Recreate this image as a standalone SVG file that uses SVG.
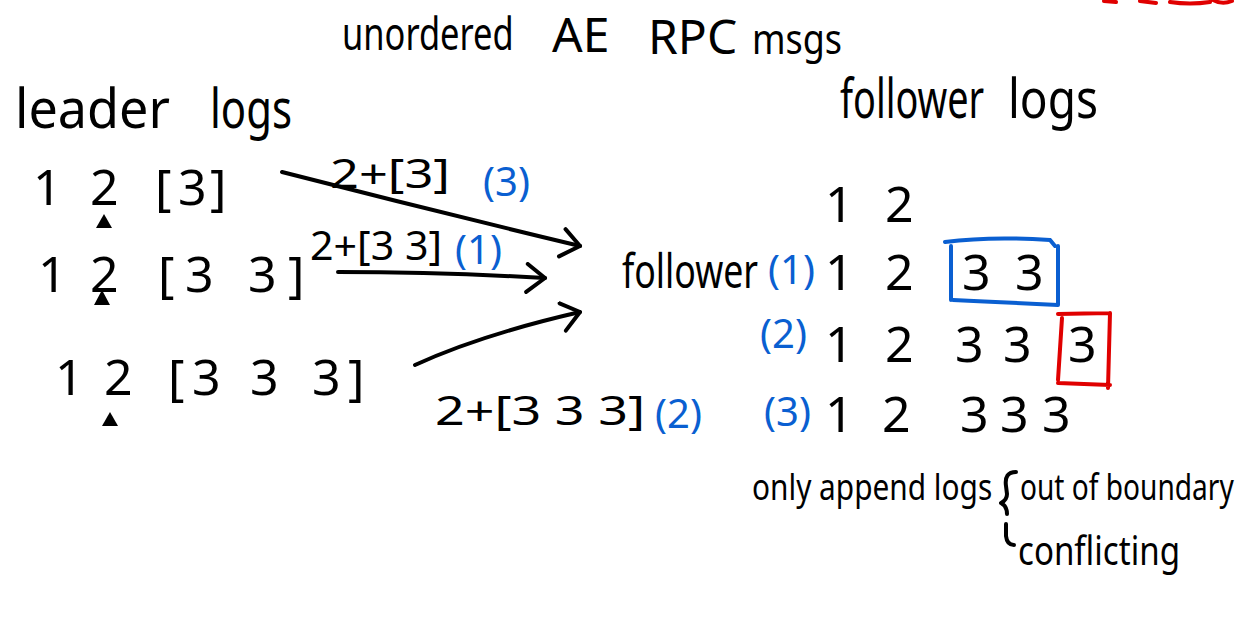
<svg xmlns="http://www.w3.org/2000/svg" width="1250" height="641" viewBox="0 0 1250 641">
<style>
  text { font-family: "Noto Sans", "Liberation Sans", sans-serif; fill: #000; }
  .hw { font-size: 50px; }
  .lbl { font-size: 40px; }
  .blue { fill: #0a5fd1; }
  .line { fill: none; stroke: #000; stroke-width: 4; stroke-linecap: round; stroke-linejoin: round; }
  .bbox { fill: none; stroke: #0a5fd1; stroke-width: 4; stroke-linecap: round; }
  .rbox { fill: none; stroke: #e00000; stroke-width: 4; stroke-linecap: round; }
  .tri { fill: #000; }
</style>
<defs>
  <marker id="chev" markerUnits="userSpaceOnUse" markerWidth="30" markerHeight="34" refX="22" refY="15" orient="auto">
    <path d="M4,2 L22,15 L4,30" fill="none" stroke="#000" stroke-width="4" stroke-linecap="round" stroke-linejoin="round"/>
  </marker>
</defs>
<rect width="1250" height="641" fill="#fff"/>

<g id="red-scribble">
  <path class="rbox" d="M1104,1 L1116,2 M1140,1 L1156,3 M1170,2 Q1190,5 1210,2 M1213,0 Q1222,5 1232,1" stroke-width="4"/>
</g>

<g id="title">
  <text transform="translate(342,50) scale(0.74,1)" font-size="46" textLength="232" lengthAdjust="spacingAndGlyphs">unordered</text>
  <text x="552" y="52" font-size="48">AE</text>
  <text x="648" y="54" font-size="48">RPC</text>
  <text x="752" y="54" textLength="90" lengthAdjust="spacingAndGlyphs" font-size="42">msgs</text>
</g>

<g id="leader-title">
  <text x="15" y="128" font-size="54" textLength="155" lengthAdjust="spacingAndGlyphs">leader</text>
  <text x="210" y="128" font-size="54" textLength="82" lengthAdjust="spacingAndGlyphs">logs</text>
</g>

<g id="follower-title">
  <text transform="translate(840,118) scale(0.7,1)" font-size="54" textLength="206" lengthAdjust="spacingAndGlyphs">follower</text>
  <text x="1008" y="118" font-size="54" textLength="90" lengthAdjust="spacingAndGlyphs">logs</text>
</g>

<g id="leader-row1">
  <text class="hw" x="33 90 155 178 210" y="205">12[3]</text>
  <polygon class="tri" points="104,214 96,228 112,228"/>
</g>
<g id="leader-row2">
  <text class="hw" x="38 90 158 185 248 288" y="292">12[33]</text>
  <polygon class="tri" points="102,290 94,305 110,305"/>
</g>
<g id="leader-row3">
  <text class="hw" x="55 104 168 192 250 312 348" y="395">12[333]</text>
  <polygon class="tri" points="110,412 102,426 118,426"/>
</g>

<g id="msg1">
  <text class="lbl" x="330" y="188" textLength="120" lengthAdjust="spacingAndGlyphs">2+[3]</text>
  <text class="lbl blue" x="483" y="196">(3)</text>
</g>
<g id="msg2">
  <text class="lbl" x="310" y="260" font-size="36" textLength="132" lengthAdjust="spacingAndGlyphs">2+[3 3]</text>
  <text class="lbl blue" x="455" y="264">(1)</text>
</g>
<g id="msg3">
  <text class="lbl" x="435" y="425" textLength="210" lengthAdjust="spacingAndGlyphs">2+[3 3 3]</text>
  <text class="lbl blue" x="655" y="428">(2)</text>
</g>

<g id="connectors">
  <path class="line" d="M282,172 Q430,210 580,246" marker-end="url(#chev)"/>
  <path class="line" d="M338,272 Q440,272 545,278" marker-end="url(#chev)"/>
  <path class="line" d="M415,365 Q480,335 580,312" marker-end="url(#chev)"/>
</g>

<g id="follower-label">
  <text transform="translate(622,288) scale(0.72,1)" font-size="48" textLength="189" lengthAdjust="spacingAndGlyphs">follower</text>
  <text class="blue" x="768" y="284" font-size="40">(1)</text>
</g>

<g id="follower-row0">
  <text class="hw" x="825 885" y="222">12</text>
</g>
<g id="follower-row1">
  <text class="hw" x="825 885 962 1015" y="290">1233</text>
  <path class="bbox" d="M945,242 Q990,236 1050,240 L1055,246 M951,246 L951,300 M953,300 Q1000,302 1058,305 M1058,246 L1058,305"/>
</g>
<g id="follower-row2">
  <text class="blue" x="760" y="348" font-size="40">(2)</text>
  <text class="hw" x="825 885 955 1003 1068" y="362">12333</text>
  <path class="rbox" d="M1058,314 L1110,313 M1062,318 L1058,380 M1058,383 L1110,385 M1110,313 L1108,388"/>
</g>
<g id="follower-row3">
  <text class="blue" x="764" y="426" font-size="40">(3)</text>
  <text class="hw" x="825 882 960 1000 1042" y="432">12333</text>
</g>

<g id="note">
  <text transform="translate(752,500) scale(0.84,1)" font-size="36" textLength="286" lengthAdjust="spacingAndGlyphs">only append logs</text>
  <path class="line" d="M1016,472 Q1004,472 1006,486 L1007,494 Q1007,500 1001,503 Q1007,506 1007,514 M1006,524 L1006,536 Q1007,545 1014,545" stroke-width="3"/>
  <text transform="translate(1020,500) scale(0.78,1)" font-size="36" textLength="274" lengthAdjust="spacingAndGlyphs">out of boundary</text>
  <text x="1018" y="565" font-size="40" textLength="162" lengthAdjust="spacingAndGlyphs">conflicting</text>
</g>
</svg>
